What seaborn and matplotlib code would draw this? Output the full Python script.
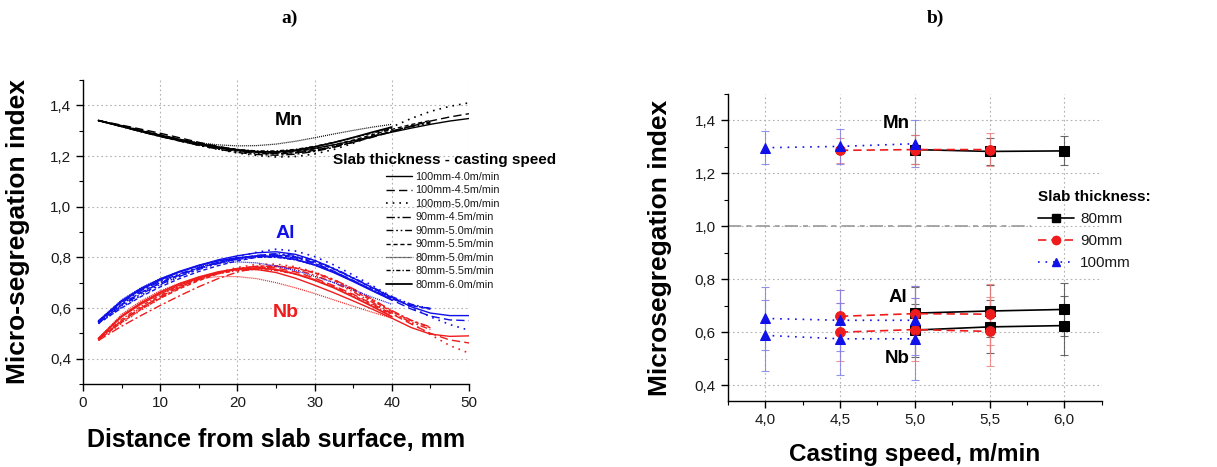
import matplotlib
matplotlib.use("Agg")
import numpy as np
import pandas as pd
import matplotlib.pyplot as plt
import seaborn as sns
from matplotlib.lines import Line2D
from matplotlib.ticker import MultipleLocator, FuncFormatter

# ---------------- data: panel a) ----------------
X_FULL = [2, 5, 7.5, 10, 12.5, 15, 17.5, 20, 22.5, 25, 27.5, 30, 32.5, 35,
          37.5, 40, 42.5, 45, 47.5, 50]
CONDITIONS = ["100mm-4.0m/min", "100mm-4.5m/min", "100mm-5.0m/min",
              "90mm-4.5m/min", "90mm-5.0m/min", "90mm-5.5m/min",
              "80mm-5.0m/min", "80mm-5.5m/min", "80mm-6.0m/min"]

MN = {
    "100mm-4.0m/min": [1.340, 1.318, 1.300, 1.283, 1.266, 1.250, 1.236, 1.225, 1.218, 1.216, 1.220, 1.230, 1.244, 1.260, 1.277, 1.294, 1.310, 1.325, 1.338, 1.348],
    "100mm-4.5m/min": [1.340, 1.322, 1.306, 1.290, 1.272, 1.254, 1.238, 1.224, 1.214, 1.210, 1.213, 1.222, 1.236, 1.254, 1.274, 1.296, 1.318, 1.338, 1.354, 1.367],
    "100mm-5.0m/min": [1.340, 1.318, 1.298, 1.279, 1.260, 1.242, 1.226, 1.212, 1.202, 1.196, 1.198, 1.208, 1.226, 1.250, 1.280, 1.314, 1.348, 1.376, 1.396, 1.410],
    "90mm-4.5m/min": [1.340, 1.316, 1.296, 1.277, 1.259, 1.242, 1.227, 1.214, 1.206, 1.203, 1.207, 1.218, 1.234, 1.254, 1.276, 1.298, 1.318, 1.334],
    "90mm-5.0m/min": [1.340, 1.318, 1.299, 1.280, 1.262, 1.245, 1.230, 1.218, 1.210, 1.208, 1.212, 1.222, 1.238, 1.257, 1.278, 1.298, 1.316, 1.330],
    "90mm-5.5m/min": [1.340, 1.320, 1.302, 1.284, 1.266, 1.249, 1.234, 1.222, 1.214, 1.212, 1.217, 1.228, 1.244, 1.263, 1.284, 1.305, 1.324, 1.340],
    "80mm-5.0m/min": [1.340, 1.316, 1.296, 1.279, 1.264, 1.252, 1.244, 1.240, 1.241, 1.247, 1.258, 1.272, 1.287, 1.301, 1.314, 1.325],
    "80mm-5.5m/min": [1.340, 1.318, 1.299, 1.281, 1.264, 1.249, 1.236, 1.226, 1.220, 1.220, 1.226, 1.238, 1.254, 1.272, 1.291, 1.308],
    "80mm-6.0m/min": [1.340, 1.317, 1.297, 1.278, 1.261, 1.245, 1.232, 1.222, 1.216, 1.216, 1.223, 1.236, 1.253, 1.273, 1.294, 1.314],
}
AL = {
    "100mm-4.0m/min": [0.545, 0.625, 0.672, 0.710, 0.742, 0.768, 0.790, 0.806, 0.818, 0.822, 0.812, 0.788, 0.755, 0.718, 0.680, 0.642, 0.605, 0.580, 0.570, 0.570],
    "100mm-4.5m/min": [0.540, 0.612, 0.660, 0.698, 0.730, 0.757, 0.779, 0.796, 0.808, 0.813, 0.802, 0.778, 0.745, 0.708, 0.670, 0.632, 0.596, 0.568, 0.553, 0.550],
    "100mm-5.0m/min": [0.538, 0.602, 0.650, 0.690, 0.724, 0.754, 0.780, 0.802, 0.820, 0.832, 0.825, 0.803, 0.770, 0.730, 0.688, 0.645, 0.603, 0.565, 0.535, 0.512],
    "90mm-4.5m/min": [0.545, 0.620, 0.668, 0.705, 0.735, 0.760, 0.780, 0.795, 0.805, 0.808, 0.798, 0.776, 0.744, 0.708, 0.670, 0.636, 0.610, 0.598],
    "90mm-5.0m/min": [0.542, 0.608, 0.655, 0.693, 0.725, 0.752, 0.775, 0.793, 0.806, 0.815, 0.808, 0.788, 0.757, 0.720, 0.682, 0.645, 0.615, 0.598],
    "90mm-5.5m/min": [0.540, 0.600, 0.645, 0.683, 0.716, 0.744, 0.767, 0.786, 0.800, 0.808, 0.802, 0.783, 0.753, 0.717, 0.678, 0.640, 0.610, 0.595],
    "80mm-5.0m/min": [0.550, 0.632, 0.680, 0.716, 0.744, 0.764, 0.777, 0.782, 0.778, 0.766, 0.748, 0.725, 0.700, 0.672, 0.642, 0.615],
    "80mm-5.5m/min": [0.545, 0.615, 0.662, 0.700, 0.732, 0.758, 0.778, 0.792, 0.800, 0.800, 0.790, 0.770, 0.742, 0.708, 0.672, 0.636],
    "80mm-6.0m/min": [0.548, 0.628, 0.676, 0.714, 0.744, 0.768, 0.786, 0.798, 0.804, 0.803, 0.792, 0.770, 0.740, 0.705, 0.668, 0.632],
}
NB = {
    "100mm-4.0m/min": [0.478, 0.565, 0.615, 0.656, 0.690, 0.718, 0.740, 0.752, 0.752, 0.740, 0.718, 0.690, 0.660, 0.628, 0.595, 0.560, 0.523, 0.497, 0.488, 0.490],
    "100mm-4.5m/min": [0.475, 0.548, 0.600, 0.645, 0.683, 0.714, 0.738, 0.755, 0.762, 0.758, 0.743, 0.718, 0.688, 0.654, 0.616, 0.577, 0.537, 0.500, 0.474, 0.462],
    "100mm-5.0m/min": [0.472, 0.540, 0.592, 0.638, 0.678, 0.712, 0.740, 0.760, 0.772, 0.773, 0.763, 0.742, 0.712, 0.675, 0.633, 0.588, 0.540, 0.495, 0.452, 0.422],
    "90mm-4.5m/min": [0.472, 0.528, 0.570, 0.610, 0.648, 0.684, 0.716, 0.742, 0.758, 0.764, 0.758, 0.740, 0.712, 0.676, 0.634, 0.590, 0.552, 0.525],
    "90mm-5.0m/min": [0.476, 0.550, 0.600, 0.642, 0.680, 0.712, 0.738, 0.756, 0.765, 0.764, 0.752, 0.730, 0.700, 0.664, 0.622, 0.580, 0.544, 0.515],
    "90mm-5.5m/min": [0.474, 0.543, 0.594, 0.638, 0.676, 0.708, 0.735, 0.754, 0.765, 0.767, 0.758, 0.738, 0.708, 0.670, 0.628, 0.586, 0.550, 0.522],
    "80mm-5.0m/min": [0.480, 0.575, 0.628, 0.668, 0.697, 0.715, 0.724, 0.724, 0.716, 0.700, 0.680, 0.657, 0.632, 0.607, 0.583, 0.560],
    "80mm-5.5m/min": [0.476, 0.555, 0.607, 0.650, 0.686, 0.714, 0.735, 0.748, 0.752, 0.748, 0.734, 0.712, 0.684, 0.650, 0.612, 0.572],
    "80mm-6.0m/min": [0.480, 0.568, 0.620, 0.662, 0.696, 0.722, 0.742, 0.755, 0.758, 0.752, 0.735, 0.710, 0.680, 0.644, 0.606, 0.566],
}

# ---------------- data: panel b) ----------------
THICKNESS = ["80mm", "90mm", "100mm"]
SPEED = {"80mm": [5.0, 5.5, 6.0], "90mm": [4.5, 5.0, 5.5], "100mm": [4.0, 4.5, 5.0]}
MN_B = {"80mm": [1.290, 1.283, 1.285], "90mm": [1.287, 1.290, 1.290], "100mm": [1.297, 1.302, 1.312]}
MN_B_ERR = {"80mm": [0.055, 0.052, 0.055], "90mm": [0.048, 0.055, 0.062], "100mm": [0.062, 0.066, 0.088]}
AL_B = {"80mm": [0.672, 0.680, 0.686], "90mm": [0.660, 0.670, 0.668], "100mm": [0.652, 0.645, 0.645]}
AL_B_ERR = {"80mm": [0.100, 0.100, 0.100], "90mm": [0.100, 0.105, 0.115], "100mm": [0.120, 0.115, 0.130]}
NB_B = {"80mm": [0.608, 0.620, 0.625], "90mm": [0.600, 0.610, 0.603], "100mm": [0.588, 0.575, 0.575]}
NB_B_ERR = {"80mm": [0.100, 0.100, 0.112], "90mm": [0.110, 0.120, 0.130], "100mm": [0.133, 0.135, 0.155]}

# ---------------- styles ----------------
STYLE_A = {
    "100mm-4.0m/min": ("-", 1.0),
    "100mm-4.5m/min": ((0, (6, 3)), 1.0),
    "100mm-5.0m/min": ((0, (1, 3)), 1.2),
    "90mm-4.5m/min": ((0, (6, 2, 1.5, 2)), 1.0),
    "90mm-5.0m/min": ((0, (5, 2, 1.2, 2, 1.2, 2)), 1.0),
    "90mm-5.5m/min": ((0, (3, 2)), 1.0),
    "80mm-5.0m/min": ((0, (0.8, 0.8)), 0.9),
    "80mm-5.5m/min": ((0, (3, 1.5, 1, 1.5)), 1.0),
    "80mm-6.0m/min": ("-", 1.3),
}
ELEM_COLOR = {"Mn": "black", "Al": "#1010e8", "Nb": "#ee1c1c"}
STYLE_B = {
    "80mm": dict(color="black", ls="-", marker="s", ecolor="#505050"),
    "90mm": dict(color="#ee1c1c", ls=(0, (5, 3)), marker="o", ecolor="#f08080"),
    "100mm": dict(color="#1010e8", ls=(0, (1, 3.5)), marker="^", ecolor="#8080e8"),
}

sns.set_style("ticks")
plt.rcParams["font.family"] = ["Liberation Sans", "DejaVu Sans"]
plt.rcParams["axes.linewidth"] = 1.0
plt.rcParams["text.color"] = "black"
plt.rcParams["axes.labelcolor"] = "black"

W, H = 1217, 467
fig = plt.figure(figsize=(W / 100, H / 100), dpi=100)

comma = FuncFormatter(lambda v, p: f"{v:.1f}".replace(".", ","))


def style_axes(ax):
    for s in ["top", "right"]:
        ax.spines[s].set_visible(False)
    for s in ["left", "bottom"]:
        ax.spines[s].set_color("black")
        ax.spines[s].set_linewidth(1.0)
    ax.tick_params(which="major", direction="out", length=5, width=1.0,
                   color="black", labelsize=11, labelcolor="#1a1a1a")
    ax.tick_params(which="minor", direction="out", length=3, width=0.8, color="black")
    ax.grid(True, which="major", color="#b0b0b0", linestyle=(0, (1.5, 2.5)), linewidth=0.8)
    ax.set_axisbelow(True)


# ---------------- panel a) ----------------
rows = []
for elem, table in [("Nb", NB), ("Al", AL), ("Mn", MN)]:
    for cond in CONDITIONS:
        vals = table[cond]
        for xv, yv in zip(X_FULL[:len(vals)], vals):
            rows.append(dict(element=elem, condition=cond, x=xv, y=yv))
df_a = pd.DataFrame(rows)

ax1 = fig.add_axes([83 / W, 1 - 384 / H, 386 / W, 304 / H])
for elem in ["Nb", "Al", "Mn"]:
    for cond in CONDITIONS:
        sub = df_a[(df_a.element == elem) & (df_a.condition == cond)]
        ls, lw = STYLE_A[cond]
        sns.lineplot(data=sub, x="x", y="y", ax=ax1, color=ELEM_COLOR[elem],
                     linestyle=ls, linewidth=lw, estimator=None, sort=False,
                     errorbar=None, legend=False)

ax1.set_xlim(0, 50)
ax1.set_ylim(0.3, 1.5)
ax1.xaxis.set_major_locator(MultipleLocator(10))
ax1.xaxis.set_minor_locator(MultipleLocator(5))
ax1.yaxis.set_minor_locator(MultipleLocator(0.1))
ax1.set_yticks([0.4, 0.6, 0.8, 1.0, 1.2, 1.4])
ax1.yaxis.set_major_formatter(comma)
style_axes(ax1)
ax1.set_xlabel("Distance from slab surface, mm", fontsize=18, fontweight="bold", color="black")
ax1.set_ylabel("Micro-segregation index", fontsize=19, fontweight="bold", color="black")
ax1.xaxis.set_label_coords(0.5, -0.145)
ax1.yaxis.set_label_coords(-0.137, 0.5)

ax1.text(26.6, 1.34, "Mn", fontsize=14, fontweight="bold", color="black", ha="center", va="center")
ax1.text(26.2, 0.896, "Al", fontsize=14, fontweight="bold", color=ELEM_COLOR["Al"], ha="center", va="center")
ax1.text(26.2, 0.581, "Nb", fontsize=14, fontweight="bold", color=ELEM_COLOR["Nb"], ha="center", va="center")

fig.text(333 / W, 1 - 160 / H, "Slab thickness - casting speed", fontsize=11,
         fontweight="bold", ha="left", va="center", color="black")
handles_a = [Line2D([], [], color="black", linestyle=STYLE_A[c][0], linewidth=STYLE_A[c][1])
             for c in CONDITIONS]
fig.legend(handles_a, CONDITIONS, loc="upper left", bbox_to_anchor=(386 / W, 1 - 172 / H),
           frameon=False, fontsize=7.8, labelspacing=0.32, handlelength=2.4,
           handletextpad=0.3, borderpad=0, borderaxespad=0, labelcolor="#1a1a1a")

# ---------------- panel b) ----------------
ax2 = fig.add_axes([727.7 / W, 1 - 401 / H, 374 / W, 307 / H])
ax2.hlines(1.0, 3.75, 5.78, colors="#999999", linestyles=[(0, (8, 3, 3, 3))], linewidth=1.2, zorder=1)

for th in THICKNESS:
    st = STYLE_B[th]
    for vals, errs in [(MN_B, MN_B_ERR), (AL_B, AL_B_ERR), (NB_B, NB_B_ERR)]:
        ax2.errorbar(SPEED[th], vals[th], yerr=errs[th], fmt="none", ecolor=st["ecolor"],
                     elinewidth=0.8, capsize=3, capthick=0.8, alpha=0.85, zorder=2)
        sns.lineplot(x=SPEED[th], y=vals[th], ax=ax2, color=st["color"], linestyle=st["ls"],
                     linewidth=1.2, marker=st["marker"], markersize=7,
                     markeredgecolor=st["color"], estimator=None, sort=False,
                     errorbar=None, legend=False, zorder=3)

ax2.set_xlim(3.75, 6.25)
ax2.set_ylim(0.34, 1.5)
ax2.xaxis.set_minor_locator(MultipleLocator(0.25))
ax2.set_xticks([4.0, 4.5, 5.0, 5.5, 6.0])
ax2.yaxis.set_minor_locator(MultipleLocator(0.1))
ax2.set_yticks([0.4, 0.6, 0.8, 1.0, 1.2, 1.4])
ax2.xaxis.set_major_formatter(comma)
ax2.yaxis.set_major_formatter(comma)
style_axes(ax2)
ax2.set_xlabel("Casting speed, m/min", fontsize=17.5, fontweight="bold", color="black")
ax2.set_ylabel("Microsegregation index", fontsize=19, fontweight="bold", color="black")
ax2.xaxis.set_label_coords(0.5, -0.137)
ax2.yaxis.set_label_coords(-0.149, 0.5)

ax2.text(4.88, 1.39, "Mn", fontsize=13.5, fontweight="bold", ha="center", va="center", color="black")
ax2.text(4.89, 0.73, "Al", fontsize=13.5, fontweight="bold", ha="center", va="center", color="black")
ax2.text(4.88, 0.50, "Nb", fontsize=13.5, fontweight="bold", ha="center", va="center", color="black")

handles_b = [Line2D([], [], color=STYLE_B[t]["color"], linestyle=STYLE_B[t]["ls"], linewidth=1.2,
                    marker=STYLE_B[t]["marker"], markersize=6) for t in THICKNESS]
leg = fig.legend(handles_b, THICKNESS, loc="upper left", bbox_to_anchor=(1038 / W, 1 - 190 / H),
                 frameon=False, fontsize=11, title="Slab thickness:", alignment="left",
                 title_fontproperties=dict(weight="bold", size=11), labelspacing=0.52,
                 handlelength=2.35, handletextpad=0.4, borderpad=0, borderaxespad=0,
                 labelcolor="#1a1a1a")
leg._legend_box.sep = 6
leg.get_title().set_color("black")

fig.text(290 / W, 1 - 18 / H, "a)", family=["Liberation Serif", "DejaVu Serif"],
         fontsize=14, fontweight="bold", ha="center", va="center", color="black")
fig.text(935 / W, 1 - 18 / H, "b)", family=["Liberation Serif", "DejaVu Serif"],
         fontsize=14, fontweight="bold", ha="center", va="center", color="black")

fig.savefig("out.png", dpi=100)
